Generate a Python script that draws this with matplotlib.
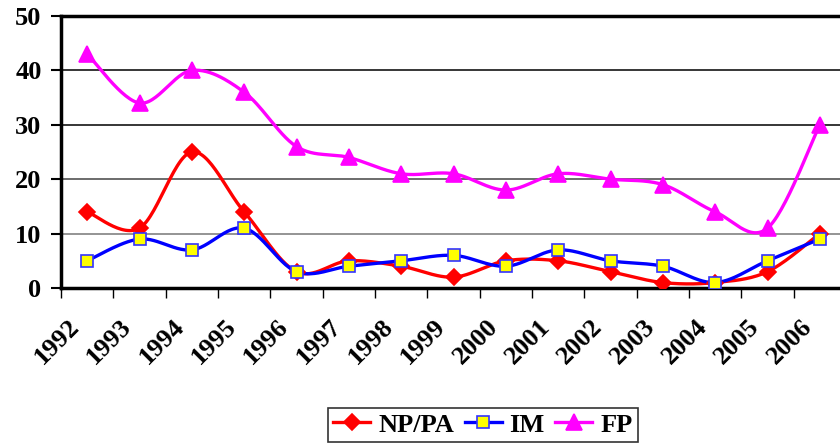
"""Smoothed line chart, 1992-2006 (NP/PA, IM, FP)"""
import numpy as np
import matplotlib
matplotlib.use("Agg")
import matplotlib.pyplot as plt

years = ["1992", "1993", "1994", "1995", "1996", "1997", "1998", "1999",
         "2000", "2001", "2002", "2003", "2004", "2005", "2006"]
np_pa = [14, 11, 25, 14, 3, 5, 4, 2, 5, 5, 3, 1, 1, 3, 10]
im = [5, 9, 7, 11, 3, 4, 5, 6, 4, 7, 5, 4, 1, 5, 9]
fp = [43, 34, 40, 36, 26, 24, 21, 21, 18, 21, 20, 19, 14, 11, 30]


def smooth(x, y, n=30):
    """Excel-like smoothed line (Catmull-Rom through each point)"""
    x = np.asarray(x, float)
    y = np.asarray(y, float)
    px = np.concatenate([[x[0]], x, [x[-1]]])
    py = np.concatenate([[y[0]], y, [y[-1]]])
    xs, ys = [], []
    t = np.linspace(0, 1, n)
    for i in range(1, len(px) - 2):
        for p, out in ((px, xs), (py, ys)):
            p0, p1, p2, p3 = p[i - 1], p[i], p[i + 1], p[i + 2]
            c1 = p1 + (p2 - p0) / 6
            c2 = p2 - (p3 - p1) / 6
            out.extend((1 - t) ** 3 * p1 + 3 * (1 - t) ** 2 * t * c1
                       + 3 * (1 - t) * t ** 2 * c2 + t ** 3 * p2)
    return xs, ys


plt.rcParams["font.family"] = ["Liberation Serif", "DejaVu Serif"]
plt.rcParams["font.weight"] = "bold"

fig = plt.figure(figsize=(8.4, 4.44), dpi=100)
ax = fig.add_axes([61 / 840, 156 / 444, 785 / 840, 272 / 444])

x = np.arange(len(years))
series = [
    ("NP/PA", np_pa, dict(color="#ff0000", marker="D", markersize=8,
                          markerfacecolor="#ff0000", markeredgecolor="#ff0000")),
    ("IM", im, dict(color="#0000ff", marker="s", markersize=9,
                    markerfacecolor="#ffff00", markeredgecolor="#3333ff")),
    ("FP", fp, dict(color="#ff00ff", marker="^", markersize=11,
                    markerfacecolor="#ff00ff", markeredgecolor="#ff00ff")),
]

handles = []
for name, vals, st in series:
    mk = {k: v for k, v in st.items() if k != "color"}
    sx, sy = smooth(x, vals)
    ax.plot(sx, sy, color=st["color"], linewidth=2.4, solid_capstyle="round", zorder=3)
    ax.plot(x, vals, linestyle="none", zorder=4, markeredgewidth=1.2, **mk)
    h, = ax.plot([], [], color=st["color"], linewidth=2.4, markeredgewidth=1.2, **mk)
    handles.append((h, name))

ax.set_xlim(-0.5, len(years) - 0.5)
ax.set_ylim(0, 50)
ax.set_yticks(range(0, 51, 10))
ax.set_yticklabels([str(v) for v in range(0, 51, 10)], fontsize=19, fontweight="bold")
ax.set_xticks(np.arange(-0.5, len(years), 1.0))
ax.set_xticklabels([])
ax.tick_params(axis="x", direction="out", length=7, width=1, color="black")
ax.tick_params(axis="y", direction="out", length=7, width=1.5, color="black", pad=7)

for i, yr in enumerate(years):
    ax.text(i - 0.22, -6.5, yr, rotation=45, rotation_mode="anchor",
            ha="right", va="center", fontsize=19, fontweight="bold",
            transform=ax.transData, clip_on=False)

# gridlines: lower ones look grey in the original
grid_cols = {10: "#777777", 20: "#444444", 30: "black", 40: "black"}
for v, c in grid_cols.items():
    ax.axhline(v, color=c, linewidth=1.1, zorder=1)
for side in ("left", "bottom", "top"):
    ax.spines[side].set_linewidth(2.5)
    ax.spines[side].set_color("black")
ax.spines["right"].set_visible(False)

leg = fig.legend([h for h, _ in handles], [n for _, n in handles],
                 loc="center", bbox_to_anchor=(0.575, 0.043), ncol=3,
                 frameon=True, fancybox=False, edgecolor="black",
                 prop={"size": 19, "weight": "bold"}, handlelength=1.4,
                 columnspacing=0.4, handletextpad=0.3, borderpad=0.2,
                 borderaxespad=0.2)
leg.get_frame().set_linewidth(1.2)

fig.savefig("out.png", dpi=100)
